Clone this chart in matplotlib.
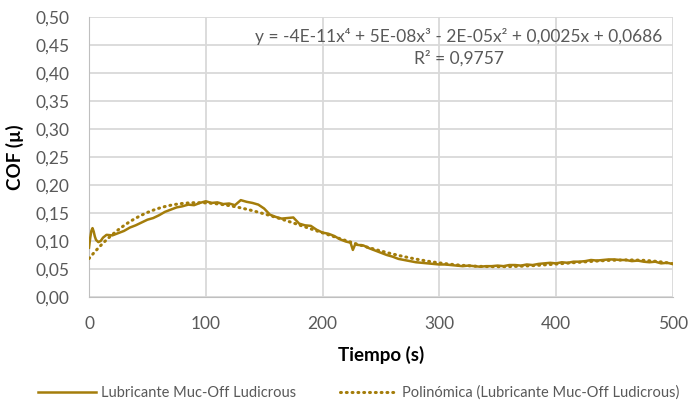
import numpy as np
import matplotlib
matplotlib.use("Agg")
from matplotlib import pyplot as plt
from matplotlib.ticker import FuncFormatter

plt.rcParams['font.family'] = ['Lato', 'DejaVu Sans']

# tiempo (s) y COF
tiempo = [0, 1, 2, 3, 4, 5, 6, 8, 10, 12, 15,
          20, 25, 30, 35, 40, 45, 50, 55, 60, 65, 70, 75, 80, 85, 90, 95,
          100, 105, 110, 115, 120, 125, 130, 135, 140, 145, 150, 155, 160,
          165, 170, 175, 180, 185, 190, 195, 200, 205, 210, 215, 220, 224,
          226, 228, 230, 235, 240, 245, 250, 255, 260, 265, 270, 275, 280,
          285, 290, 295, 300, 305, 310, 315, 320, 325, 330, 335, 340, 345,
          350, 355, 360, 365, 370, 375, 380, 385, 390, 395, 400, 405, 410,
          415, 420, 425, 430, 435, 440, 445, 450, 455, 460, 465, 470, 475,
          480, 485, 490, 495, 500]
cof = [0.088, 0.105, 0.118, 0.123, 0.117, 0.108, 0.102, 0.098, 0.100, 0.106, 0.111,
       0.110, 0.114, 0.118, 0.124, 0.128, 0.133, 0.138, 0.141, 0.146, 0.152, 0.156,
       0.160, 0.162, 0.165, 0.164, 0.168,
       0.171, 0.168, 0.169, 0.166, 0.167, 0.164, 0.173, 0.170, 0.168, 0.165, 0.158,
       0.147, 0.143, 0.140, 0.141, 0.142, 0.131, 0.128, 0.127, 0.120, 0.115, 0.113,
       0.109, 0.103, 0.099, 0.097, 0.084, 0.094, 0.093, 0.092, 0.087, 0.083, 0.079,
       0.075, 0.072, 0.068, 0.066, 0.064, 0.062, 0.061, 0.060, 0.059, 0.058, 0.058,
       0.057, 0.056, 0.055, 0.056, 0.055, 0.054, 0.055, 0.055, 0.056, 0.055, 0.057,
       0.057, 0.056, 0.058, 0.057, 0.059, 0.060, 0.061, 0.060, 0.062, 0.061, 0.063,
       0.063, 0.064, 0.066, 0.065, 0.066, 0.067, 0.067, 0.066, 0.066, 0.064, 0.065,
       0.063, 0.062, 0.063, 0.060, 0.061, 0.059]

ecuacion = "y = -4E-11x\u2074 + 5E-08x\u00b3 - 2E-05x\u00b2 + 0,0025x + 0,0686"
r2 = "R\u00b2 = 0,9757"
intercepto = 0.0686

color = '#A47D0B'
gris = '#D9D9D9'
texto = '#595959'

# linea de tendencia polinomica de grado 4 (termino independiente de la etiqueta)
t = np.array(tiempo, dtype=float)
A = np.vstack([t**4, t**3, t**2, t]).T
k = np.linalg.lstsq(A, np.array(cof) - intercepto, rcond=None)[0]
t_fit = np.linspace(0, 500, 300)
cof_fit = np.polyval(np.append(k, intercepto), t_fit)

fig = plt.figure(figsize=(6.9, 4.09), dpi=100)
ax = fig.add_axes([0.129, 0.274, 0.846, 0.684])

ax.plot(tiempo, cof, color=color, lw=1.8, label='Lubricante Muc-Off Ludicrous', zorder=3)
ax.plot(t_fit, cof_fit, color=color, lw=2.2, linestyle=(0, (0.3, 1.6)),
        dash_capstyle='round', label='Polinómica (Lubricante Muc-Off Ludicrous)', zorder=4)

ax.set_xlim(0, 500)
ax.set_ylim(0, 0.5)
ax.set_xticks(range(0, 501, 100))
ax.set_yticks(np.arange(0, 0.501, 0.05))
ax.yaxis.set_major_formatter(FuncFormatter(lambda v, p: f"{v:.2f}".replace('.', ',')))
ax.tick_params(length=0, labelsize=12.5, colors=texto)
ax.tick_params(axis='y', pad=14)
ax.tick_params(axis='x', pad=14)
ax.grid(True, color=gris, lw=1.3)
ax.set_axisbelow(True)
for s in ['top', 'right']:
    ax.spines[s].set_visible(False)
for s in ['left', 'bottom']:
    ax.spines[s].set_color('#BFBFBF')

ax.set_xlabel("Tiempo (s)", fontsize=13.5, fontweight='bold', color='black', labelpad=10)
ax.set_ylabel("COF (µ)", fontsize=13.5, fontweight='bold', color='black', labelpad=8)

ax.text(0.634, 0.932, ecuacion, transform=ax.transAxes, ha='center', va='center',
        fontsize=12.5, color=texto)
ax.text(0.634, 0.854, r2, transform=ax.transAxes, ha='center', va='center',
        fontsize=12.5, color=texto)

fig.legend(loc='center', bbox_to_anchor=(0.52, 0.04), ncol=2, frameon=False,
           fontsize=10.5, handlelength=4.0, handletextpad=0.3, columnspacing=3.0,
           labelcolor=texto)

fig.savefig("out.png", dpi=100)
